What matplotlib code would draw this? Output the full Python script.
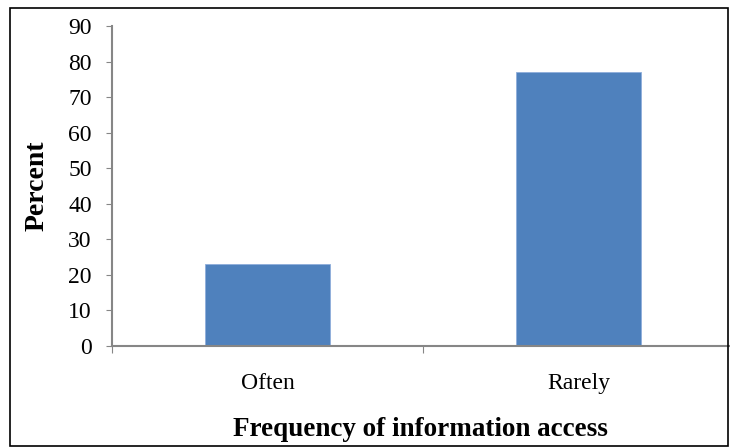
import matplotlib.pyplot as plt
from matplotlib.patches import Rectangle

categories = ["Often", "Rarely"]
percent = [23, 77]

plt.rcParams['font.family'] = ['Liberation Serif', 'DejaVu Serif']

fig = plt.figure(figsize=(7.3, 4.47), dpi=100)
ax = fig.add_axes([112/730, 1-346/447, 622/730, 320/447])

x = range(len(categories))
ax.bar(x, percent, width=0.4, color="#4F81BD", edgecolor="#8FAEDB", linewidth=0.6, zorder=2)

ax.set_xlim(-0.5, 1.5)
ax.set_ylim(0, 90)
ax.set_yticks(range(0, 91, 10))

ax.set_xticks([-0.5, 0.5, 1.5])
ax.set_xticklabels([])
ax.set_xticks(list(x), minor=True)
ax.set_xticklabels(categories, minor=True)
ax.tick_params(axis='x', which='minor', length=0, pad=19.5, labelsize=17)
ax.tick_params(axis='x', which='major', length=5, color='#868686', direction='out')
ax.tick_params(axis='y', length=4.5, color='#868686', direction='out', pad=10, labelsize=17)

for s in ['top', 'right']:
    ax.spines[s].set_visible(False)
for s in ['left', 'bottom']:
    ax.spines[s].set_color('#868686')
    ax.spines[s].set_linewidth(1.5)
ax.spines['bottom'].set_zorder(3)

fig.text(37/730, 1-186/447, "Percent", rotation=90, fontsize=20, fontweight='bold',
         ha='center', va='center')
fig.text(420/730, 1-430/447, "Frequency of information access", fontsize=19.5,
         fontweight='bold', ha='center', va='center')

fig.patches.append(Rectangle((10/730, 1/447), 718.5/730, 438/447, transform=fig.transFigure,
                             fill=False, edgecolor='black', linewidth=1.2))

fig.savefig("out.png", dpi=100)
